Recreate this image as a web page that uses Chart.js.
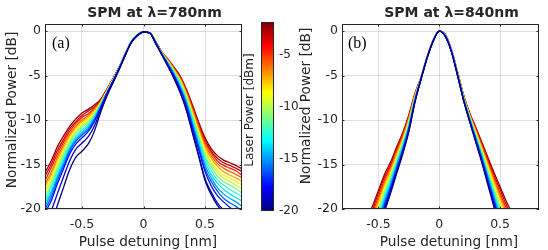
<!DOCTYPE html>
<html><head><meta charset="utf-8">
<script src="https://cdn.jsdelivr.net/npm/chart.js@4.4.1/dist/chart.umd.min.js"></script>
<style>
html,body{margin:0;padding:0;background:#fff;}
#wrap{position:relative;width:548px;height:250px;overflow:hidden;background:#fff;}
canvas{position:absolute;top:0;}
</style></head><body>
<div id="wrap">
<canvas id="ca" width="250" height="250" style="left:0px"></canvas>
<canvas id="cb" width="252" height="250" style="left:296px"></canvas>
<canvas id="cc" width="64" height="250" style="left:240px"></canvas>
</div>
<script>
// ---------- data ----------
const xTicks = [-0.5, 0, 0.5];
const yTicks = [-20, -15, -10, -5, 0];
const cbarTicks = [-20, -15, -10, -5];
const cbarMin = -20, cbarMax = -1.8;

// laser power of each curve [dBm]
const powerA = [-20, -18.7, -17.4, -16.1, -14.9, -13.6, -12.3, -11.0, -9.7, -8.4, -7.1, -5.9, -4.6, -3.3, -2.0];
const powerB = [-20, -18.7, -17.4, -16.1, -14.9, -13.6, -12.3, -11.0, -9.7, -8.4, -7.1, -5.9, -4.6, -3.3, -2.0];

// panel (a): lambda = 780 nm
const xA = [-0.8,-0.75,-0.7,-0.65,-0.6,-0.55,-0.5,-0.45,-0.4,-0.35,-0.3,-0.25,-0.2,-0.15,-0.1,-0.05,0,0.05,0.1,0.15,0.2,0.25,0.3,0.35,0.4,0.45,0.5,0.55,0.6,0.65,0.7,0.75,0.8];
const a01 = [-23.0,-21.6,-19.6,-17.6,-15.6,-14.2,-13.5,-12.7,-11.3,-9.2,-7.4,-5.9,-4.4,-2.8,-1.3,-0.5,-0.1,-0.2,-1.4,-2.7,-4.0,-5.4,-7.0,-9.0,-11.6,-14.2,-16.8,-18.4,-19.6,-20.4,-21.0,-21.5,-22.0];
const a02 = [-21.6,-20.2,-18.3,-16.4,-14.6,-13.3,-12.6,-11.9,-10.7,-8.9,-7.2,-5.8,-4.3,-2.8,-1.3,-0.5,-0.1,-0.2,-1.4,-2.7,-4.0,-5.3,-6.9,-8.9,-11.4,-14.0,-16.6,-18.1,-19.3,-20.1,-20.7,-21.2,-21.7];
const a03 = [-20.4,-19.1,-17.2,-15.5,-13.8,-12.7,-12.0,-11.3,-10.2,-8.7,-7.1,-5.7,-4.3,-2.7,-1.3,-0.5,-0.1,-0.2,-1.4,-2.6,-3.8,-5.1,-6.6,-8.5,-11.0,-13.4,-15.8,-17.4,-18.5,-19.2,-19.8,-20.2,-20.7];
const a04 = [-20.0,-18.7,-16.8,-15.2,-13.5,-12.4,-11.7,-11.1,-10.0,-8.6,-7.1,-5.7,-4.3,-2.7,-1.3,-0.5,-0.1,-0.2,-1.3,-2.6,-3.8,-5.0,-6.5,-8.3,-10.7,-13.1,-15.5,-16.9,-18.0,-18.8,-19.3,-19.7,-20.2];
const a05 = [-19.7,-18.3,-16.5,-14.9,-13.3,-12.2,-11.5,-10.9,-9.9,-8.5,-7.0,-5.7,-4.3,-2.7,-1.3,-0.5,-0.1,-0.2,-1.3,-2.6,-3.7,-4.9,-6.3,-8.1,-10.5,-12.8,-15.1,-16.5,-17.6,-18.3,-18.8,-19.2,-19.7];
const a06 = [-19.3,-18.0,-16.2,-14.6,-13.1,-12.0,-11.3,-10.7,-9.7,-8.4,-7.0,-5.6,-4.2,-2.7,-1.2,-0.4,-0.1,-0.2,-1.3,-2.6,-3.6,-4.8,-6.2,-7.9,-10.2,-12.5,-14.7,-16.1,-17.1,-17.8,-18.3,-18.7,-19.1];
const a07 = [-19.0,-17.6,-15.8,-14.3,-12.8,-11.8,-11.1,-10.5,-9.6,-8.3,-6.9,-5.6,-4.2,-2.7,-1.2,-0.4,-0.1,-0.2,-1.3,-2.5,-3.6,-4.7,-6.0,-7.8,-9.9,-12.2,-14.3,-15.7,-16.7,-17.3,-17.8,-18.2,-18.6];
const a08 = [-18.6,-17.3,-15.5,-14.0,-12.6,-11.5,-10.8,-10.3,-9.4,-8.3,-6.9,-5.6,-4.2,-2.7,-1.2,-0.4,-0.1,-0.2,-1.3,-2.5,-3.5,-4.6,-5.9,-7.6,-9.7,-11.9,-14.0,-15.3,-16.3,-16.9,-17.3,-17.7,-18.2];
const a09 = [-18.2,-16.9,-15.2,-13.7,-12.3,-11.3,-10.6,-10.1,-9.3,-8.2,-6.9,-5.6,-4.2,-2.7,-1.2,-0.4,-0.1,-0.2,-1.3,-2.5,-3.5,-4.5,-5.7,-7.4,-9.5,-11.6,-13.6,-15.0,-15.9,-16.5,-16.9,-17.3,-17.7];
const a10 = [-17.9,-16.6,-14.9,-13.4,-12.1,-11.1,-10.4,-9.9,-9.1,-8.1,-6.8,-5.5,-4.2,-2.7,-1.2,-0.4,-0.1,-0.2,-1.3,-2.5,-3.4,-4.5,-5.6,-7.3,-9.3,-11.4,-13.3,-14.7,-15.6,-16.2,-16.5,-16.9,-17.3];
const a11 = [-17.5,-16.2,-14.5,-13.1,-11.8,-10.9,-10.2,-9.7,-9.0,-8.0,-6.8,-5.5,-4.2,-2.6,-1.2,-0.4,-0.1,-0.2,-1.2,-2.5,-3.4,-4.4,-5.5,-7.1,-9.1,-11.2,-13.1,-14.3,-15.2,-15.8,-16.2,-16.5,-16.9];
const a12 = [-17.2,-15.9,-14.2,-12.8,-11.6,-10.7,-10.0,-9.5,-8.8,-8.0,-6.7,-5.5,-4.2,-2.6,-1.2,-0.4,-0.1,-0.2,-1.2,-2.4,-3.3,-4.3,-5.4,-7.0,-8.9,-10.9,-12.8,-14.0,-14.9,-15.4,-15.8,-16.1,-16.5];
const a13 = [-16.8,-15.4,-13.8,-12.5,-11.3,-10.4,-9.7,-9.3,-8.7,-7.9,-6.7,-5.5,-4.1,-2.6,-1.2,-0.4,-0.1,-0.2,-1.2,-2.4,-3.3,-4.2,-5.3,-6.8,-8.7,-10.7,-12.5,-13.7,-14.6,-15.1,-15.4,-15.7,-16.2];
const a14 = [-16.3,-15.0,-13.4,-12.2,-11.0,-10.2,-9.5,-9.0,-8.5,-7.8,-6.6,-5.4,-4.1,-2.6,-1.2,-0.4,-0.1,-0.2,-1.2,-2.4,-3.2,-4.2,-5.2,-6.7,-8.6,-10.5,-12.2,-13.5,-14.3,-14.8,-15.1,-15.4,-15.8];
const a15 = [-15.9,-14.6,-13.0,-11.8,-10.7,-9.9,-9.2,-8.8,-8.3,-7.7,-6.6,-5.4,-4.1,-2.6,-1.2,-0.4,-0.1,-0.2,-1.2,-2.4,-3.2,-4.1,-5.1,-6.6,-8.4,-10.3,-12.0,-13.2,-14.0,-14.5,-14.8,-15.1,-15.5];

// panel (b): lambda = 840 nm
const xB = [-0.6,-0.55,-0.5,-0.45,-0.4,-0.35,-0.3,-0.25,-0.2,-0.15,-0.1,-0.05,0,0.05,0.1,0.15,0.2,0.25,0.3,0.35,0.4,0.45,0.5,0.55,0.6];
const b01 = [-27.2,-25.0,-22.7,-20.3,-18.2,-16.0,-13.8,-11.3,-8.0,-5.4,-3.0,-1.1,0,-0.6,-2.3,-5.0,-7.8,-10.2,-12.5,-14.8,-17.3,-19.8,-22.2,-24.5,-26.8];
const b02 = [-26.8,-24.6,-22.4,-20.0,-18.0,-15.8,-13.6,-11.2,-7.9,-5.4,-3.0,-1.1,0,-0.6,-2.3,-5.0,-7.8,-10.1,-12.4,-14.6,-17.1,-19.5,-21.9,-24.1,-26.4];
const b03 = [-26.4,-24.2,-22.0,-19.7,-17.7,-15.6,-13.5,-11.0,-7.9,-5.4,-3.0,-1.1,0,-0.6,-2.3,-4.9,-7.7,-10.1,-12.3,-14.5,-16.9,-19.2,-21.5,-23.7,-25.9];
const b04 = [-25.9,-23.9,-21.7,-19.4,-17.5,-15.4,-13.3,-10.9,-7.8,-5.4,-3.0,-1.1,0,-0.6,-2.3,-4.9,-7.7,-10.0,-12.1,-14.3,-16.6,-19.0,-21.2,-23.3,-25.5];
const b05 = [-25.5,-23.5,-21.3,-19.1,-17.2,-15.1,-13.1,-10.8,-7.7,-5.3,-3.0,-1.1,0,-0.5,-2.2,-4.9,-7.6,-9.9,-12.0,-14.1,-16.4,-18.7,-20.9,-23.0,-25.0];
const b06 = [-25.1,-23.1,-21.0,-18.8,-17.0,-14.9,-12.9,-10.6,-7.6,-5.3,-3.0,-1.1,0,-0.5,-2.2,-4.9,-7.6,-9.8,-11.9,-14.0,-16.2,-18.4,-20.5,-22.6,-24.6];
const b07 = [-24.7,-22.7,-20.6,-18.5,-16.7,-14.7,-12.8,-10.5,-7.6,-5.3,-3.0,-1.1,0,-0.5,-2.2,-4.8,-7.5,-9.8,-11.8,-13.8,-16.0,-18.1,-20.2,-22.2,-24.1];
const b08 = [-24.3,-22.4,-20.3,-18.2,-16.5,-14.5,-12.6,-10.4,-7.5,-5.3,-3.0,-1.1,0,-0.5,-2.2,-4.8,-7.5,-9.7,-11.7,-13.7,-15.8,-17.9,-19.9,-21.8,-23.7];
const b09 = [-23.8,-22.0,-20.0,-17.9,-16.2,-14.3,-12.4,-10.2,-7.4,-5.3,-2.9,-1.0,0,-0.5,-2.2,-4.8,-7.5,-9.6,-11.5,-13.5,-15.5,-17.6,-19.5,-21.4,-23.2];
const b10 = [-23.4,-21.6,-19.6,-17.6,-16.0,-14.1,-12.3,-10.1,-7.4,-5.3,-2.9,-1.0,0,-0.5,-2.2,-4.7,-7.4,-9.6,-11.4,-13.3,-15.3,-17.3,-19.2,-21.0,-22.8];
const b11 = [-23.0,-21.2,-19.3,-17.3,-15.7,-13.9,-12.1,-9.9,-7.3,-5.3,-2.9,-1.0,0,-0.5,-2.2,-4.7,-7.4,-9.5,-11.3,-13.2,-15.1,-17.0,-18.8,-20.6,-22.3];
const b12 = [-22.6,-20.8,-18.9,-17.0,-15.5,-13.6,-11.9,-9.8,-7.2,-5.2,-2.9,-1.0,0,-0.4,-2.1,-4.7,-7.3,-9.4,-11.2,-13.0,-14.9,-16.7,-18.5,-20.3,-21.9];
const b13 = [-22.1,-20.5,-18.6,-16.7,-15.2,-13.4,-11.7,-9.7,-7.1,-5.2,-2.9,-1.0,0,-0.4,-2.1,-4.7,-7.3,-9.3,-11.0,-12.8,-14.6,-16.5,-18.2,-19.9,-21.4];
const b14 = [-21.7,-20.1,-18.2,-16.4,-15.0,-13.2,-11.6,-9.5,-7.1,-5.2,-2.9,-1.0,0,-0.4,-2.1,-4.6,-7.2,-9.3,-10.9,-12.7,-14.4,-16.2,-17.8,-19.5,-21.0];
const b15 = [-21.3,-19.7,-17.9,-16.1,-14.7,-13.0,-11.4,-9.4,-7.0,-5.2,-2.9,-1.0,0,-0.4,-2.1,-4.6,-7.2,-9.2,-10.8,-12.5,-14.2,-15.9,-17.5,-19.1,-20.5];

const curvesA = [a01,a02,a03,a04,a05,a06,a07,a08,a09,a10,a11,a12,a13,a14,a15];
const curvesB = [b01,b02,b03,b04,b05,b06,b07,b08,b09,b10,b11,b12,b13,b14,b15];

// ---------- styling helpers ----------
const AX = '#262626';
const FONT = '"DejaVu Sans", Verdana, sans-serif';
function jet(t){
  t = Math.max(0, Math.min(1, t));
  const f = v => Math.round(255*Math.max(0, Math.min(1, v)));
  return 'rgb(' + f(1.5-Math.abs(4*t-3)) + ',' + f(1.5-Math.abs(4*t-2)) + ',' + f(1.5-Math.abs(4*t-1)) + ')';
}
const powerColor = p => jet((p - cbarMin)/(cbarMax - cbarMin));

const textPlugin = {
  id: 'texts',
  afterDraw(chart, args, opts){
    const ctx = chart.ctx;
    (opts.items || []).forEach(it => {
      ctx.save();
      ctx.font = it.font;
      ctx.fillStyle = it.color || AX;
      ctx.textAlign = it.align || 'center';
      ctx.textBaseline = 'middle';
      ctx.translate(it.x - opts.ox, it.y);
      if (it.rot) ctx.rotate(it.rot);
      ctx.fillText(it.text, 0, 0);
      ctx.restore();
    });
  }
};

const boxPlugin = {
  id: 'box',
  afterDatasetsDraw(chart, args, opts){
    const {ctx, chartArea: a, scales} = chart;
    ctx.save();
    ctx.strokeStyle = AX;
    ctx.lineWidth = 1;
    ctx.strokeRect(Math.round(a.left)+0.5, Math.round(a.top)+0.5, Math.round(a.right-a.left)-1, Math.round(a.bottom-a.top)-1);
    if (opts.ticks) {
      const L = 2.5;
      ctx.beginPath();
      xTicks.forEach(v => {
        const x = Math.round(scales.x.getPixelForValue(v)) + 0.5;
        ctx.moveTo(x, a.bottom); ctx.lineTo(x, a.bottom - L);
        ctx.moveTo(x, a.top); ctx.lineTo(x, a.top + L);
      });
      yTicks.forEach(v => {
        const y = Math.round(scales.y.getPixelForValue(v)) + 0.5;
        ctx.moveTo(a.left, y); ctx.lineTo(a.left + L, y);
        ctx.moveTo(a.right, y); ctx.lineTo(a.right - L, y);
      });
      ctx.stroke();
    }
    ctx.restore();
  }
};

function makePanel(id, ox, yWidth, padRight, xMax, xs, curves, powers, items){
  const datasets = curves.map((c, k) => ({
    data: xs.map((x, i) => ({x: x, y: c[i]})),
    borderColor: powerColor(powers[k]),
    borderWidth: 1.3,
    pointRadius: 0,
    fill: false,
    cubicInterpolationMode: 'monotone',
    clip: 0
  }));
  return new Chart(document.getElementById(id), {
    type: 'line',
    data: {datasets: datasets},
    plugins: [boxPlugin, textPlugin],
    options: {
      responsive: false, animation: false, devicePixelRatio: 1,
      layout: {padding: {left: 0, right: padRight, top: 24, bottom: 0}},
      plugins: {legend: {display: false}, tooltip: {enabled: false},
        box: {ticks: true}, texts: {ox: ox, items: items}},
      scales: {
        x: {
          type: 'linear', min: -0.8, max: xMax,
          afterBuildTicks: s => { s.ticks = xTicks.map(v => ({value: v})); },
          afterFit: s => { s.height = 41; },
          grid: {color: 'rgba(38,38,38,0.15)', lineWidth: 1, drawTicks: false},
          border: {display: false},
          ticks: {color: AX, font: {family: FONT, size: 12.5}, padding: 8,
            callback: v => (v === 0 ? '0' : String(v))}
        },
        y: {
          type: 'linear', min: -20, max: 0.8,
          afterBuildTicks: s => { s.ticks = yTicks.map(v => ({value: v})); },
          afterFit: s => { s.width = yWidth; },
          grid: {color: 'rgba(38,38,38,0.15)', lineWidth: 1, drawTicks: false},
          border: {display: false},
          ticks: {color: AX, font: {family: FONT, size: 12.5}, padding: 4,
            callback: v => String(v)}
        }
      }
    }
  });
}

makePanel('ca', 0, 45, 8, 0.8, xA, curvesA, powerA, [
  {text: 'SPM at \u03bb=780nm', x: 154.5, y: 13, font: 'bold 14px ' + FONT},
  {text: 'Normalized Power [dB]', x: 12, y: 110, rot: -Math.PI/2, font: '13.7px ' + FONT},
  {text: 'Pulse detuning [nm]', x: 148, y: 242, font: '13.7px ' + FONT},
  {text: '(a)', x: 52, y: 43.5, align: 'left', font: '16px "Liberation Serif", "Times New Roman", serif', color: '#000'}
]);
makePanel('cb', 296, 46, 9, 0.82, xB, curvesB, powerB, [
  {text: 'SPM at \u03bb=840nm', x: 451.5, y: 13, font: 'bold 14px ' + FONT},
  {text: 'Normalized Power [dB]', x: 306, y: 106, rot: -Math.PI/2, font: '13.7px ' + FONT},
  {text: 'Pulse detuning [nm]', x: 449, y: 242, font: '13.7px ' + FONT},
  {text: '(b)', x: 348, y: 43.5, align: 'left', font: '16px "Liberation Serif", "Times New Roman", serif', color: '#000'}
]);

// ---------- colorbar ----------
const gradPlugin = {
  id: 'grad',
  beforeDatasetsDraw(chart){
    const {ctx, chartArea: a} = chart;
    const h = a.bottom - a.top;
    for (let i = 0; i < h; i++) {
      ctx.fillStyle = jet(1 - (i + 0.5)/h);
      ctx.fillRect(a.left, a.top + i, a.right - a.left, 1);
    }
  }
};
new Chart(document.getElementById('cc'), {
  type: 'scatter',
  data: {datasets: [{data: []}]},
  plugins: [gradPlugin, boxPlugin, textPlugin],
  options: {
    responsive: false, animation: false, devicePixelRatio: 1,
    layout: {padding: {left: 21, right: 0, top: 22, bottom: 39}},
    plugins: {legend: {display: false}, tooltip: {enabled: false},
      box: {ticks: false},
      texts: {ox: 240, items: [
        {text: 'Laser Power [dBm]', x: 250, y: 110, rot: -Math.PI/2, font: '12px ' + FONT}
      ]}},
    scales: {
      x: {display: false, min: 0, max: 1},
      y: {position: 'right', min: cbarMin, max: cbarMax,
        afterBuildTicks: s => { s.ticks = cbarTicks.map(v => ({value: v})); },
        afterFit: s => { s.width = 30; },
        grid: {display: false, drawTicks: false}, border: {display: false},
        ticks: {color: AX, font: {family: FONT, size: 12}, padding: 5,
          callback: v => String(v)}
      }
    }
  }
});
</script>
</body></html>
